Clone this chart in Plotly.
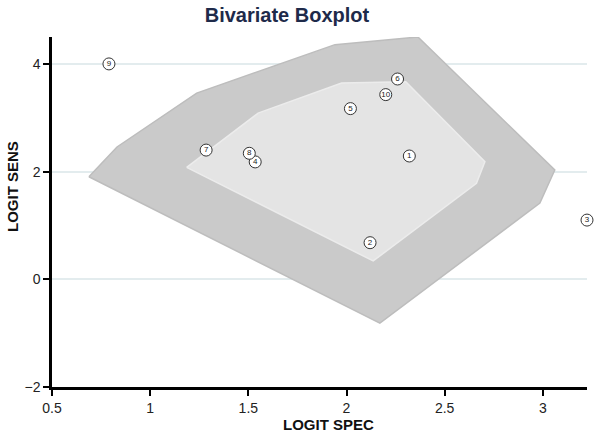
import plotly.graph_objects as go

# Study points (logit specificity, logit sensitivity)
study_ids = ["1", "2", "3", "4", "5", "6", "7", "8", "9", "10"]
logit_spec = [2.32, 2.12, 3.225, 1.535, 2.02, 2.26, 1.285, 1.505, 0.79, 2.20]
logit_sens = [2.29, 0.68, 1.10, 2.18, 3.17, 3.72, 2.40, 2.34, 4.00, 3.43]

# Fence (outer hull) and hinge (inner bag) vertices
fence_x = [0.688, 0.831, 1.237, 1.941, 2.364, 3.061, 2.985, 2.170, 0.688]
fence_y = [1.905, 2.458, 3.458, 4.358, 4.500, 2.030, 1.415, -0.814, 1.905]
hinge_x = [1.186, 1.550, 1.975, 2.302, 2.705, 2.662, 2.136, 1.186]
hinge_y = [2.080, 3.086, 3.644, 3.668, 2.184, 1.782, 0.341, 2.080]

x_ticks = [0.5, 1, 1.5, 2, 2.5, 3]
y_ticks = [-2, 0, 2, 4]

fig = go.Figure()

fig.add_trace(go.Scatter(
    x=fence_x, y=fence_y, mode="lines", fill="toself",
    fillcolor="#cacaca", line=dict(color="#bdbdbd", width=1.5),
    hoverinfo="skip", showlegend=False,
))
fig.add_trace(go.Scatter(
    x=hinge_x, y=hinge_y, mode="lines", fill="toself",
    fillcolor="#e4e4e4", line=dict(color="#ececec", width=1.5),
    hoverinfo="skip", showlegend=False,
))
fig.add_trace(go.Scatter(
    x=logit_spec, y=logit_sens, mode="markers+text",
    text=study_ids, textposition="middle center",
    textfont=dict(size=8, color="#222", family="Arial"),
    marker=dict(size=12, color="white", line=dict(color="#333", width=1)),
    cliponaxis=False, showlegend=False,
))

fig.update_layout(
    width=600, height=434,
    plot_bgcolor="white",
    paper_bgcolor="white",
    margin=dict(l=52, r=13, t=37, b=47),
    font=dict(family="Arial", size=14, color="#222"),
    title=dict(
        text="<b>Bivariate Boxplot</b>",
        x=287 / 600, xanchor="center", y=1 - 15 / 434, yanchor="middle",
        font=dict(size=20, color="#1e2a4a"),
    ),
    annotations=[
        dict(text="<b>LOGIT SPEC</b>", xref="paper", yref="paper",
             x=(328 - 52) / 535, y=-(424 - 387) / 350, showarrow=False,
             xanchor="center", yanchor="middle", font=dict(size=15, color="#111")),
        dict(text="<b>LOGIT SENS</b>", xref="paper", yref="paper",
             x=-(52 - 12) / 535, y=(387 - 187) / 350, showarrow=False,
             textangle=-90, xanchor="center", yanchor="middle",
             font=dict(size=15, color="#111")),
    ],
)

fig.update_xaxes(
    range=[0.5, 3.225], tickvals=x_ticks, showgrid=False, zeroline=False,
    showline=True, linecolor="black", linewidth=2.5,
    ticks="outside", ticklen=6, tickwidth=2, tickcolor="black",
)
fig.update_yaxes(
    range=[-2, 4.5], tickvals=y_ticks, showgrid=True,
    gridcolor="#e3ecee", gridwidth=2, zeroline=False,
    showline=True, linecolor="black", linewidth=2.5,
    ticks="outside", ticklen=6, tickwidth=2, tickcolor="black",
)

# the page body has a default 8px margin; drop it so the figure sits at 0,0
fig.write_html(
    "out.html",
    config={"displayModeBar": False},
    post_script="document.body.style.margin='0';",
)
